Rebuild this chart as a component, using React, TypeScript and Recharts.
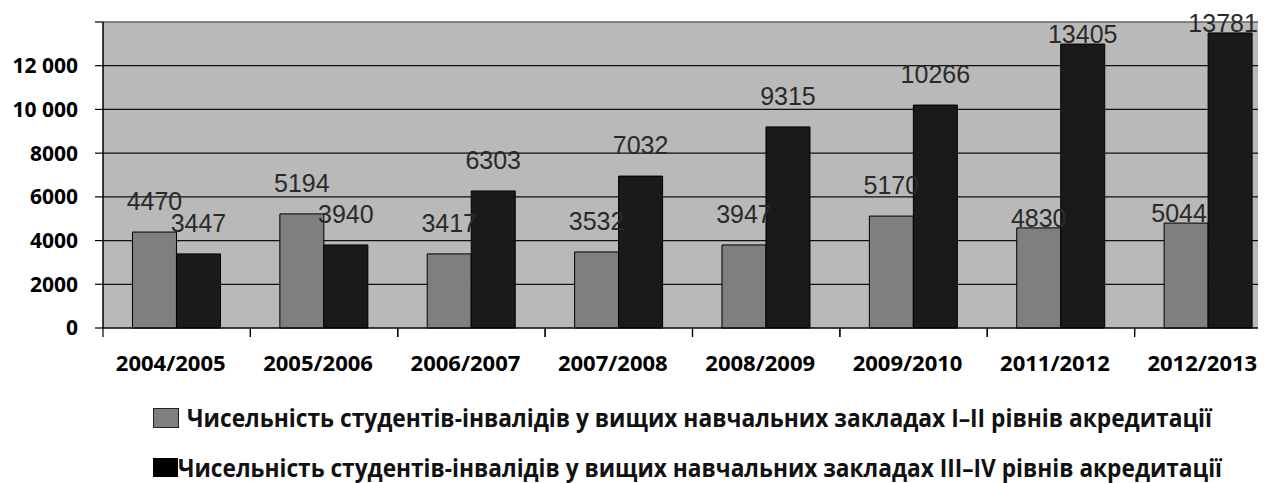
import { Bar, BarChart, CartesianGrid, LabelList, ReferenceLine, XAxis, YAxis } from 'recharts'

const years = ['2004/2005', '2005/2006', '2006/2007', '2007/2008', '2008/2009', '2009/2010', '2011/2012', '2012/2013']
// bar heights as drawn in the picture
const lowerLevel = [4390, 5220, 3390, 3480, 3800, 5120, 4580, 4800]
const upperLevel = [3390, 3800, 6270, 6950, 9200, 10200, 12990, 13500]
// numbers printed above the bars
const lowerLabels = ['4470', '5194', '3417', '3532', '3947', '5170', '4830', '5044']
const upperLabels = ['3447', '3940', '6303', '7032', '9315', '10266', '13405', '13781']
const yTicks = [0, 2000, 4000, 6000, 8000, 10000, 12000, 14000]
const seriesNames = [
  'Чисельність студентів-інвалідів у вищих навчальних закладах I–II рівнів акредитації',
  'Чисельність студентів-інвалідів у вищих навчальних закладах III–IV рівнів акредитації',
]

const data = years.map((year, i) => ({ year, lower: lowerLevel[i], upper: upperLevel[i] }))

const CHART_W = 1300
const CHART_H = 370
const PLOT_LEFT = 95
const PLOT_RIGHT = 1274
const PLOT_BOTTOM = 320
const BAND = (PLOT_RIGHT - PLOT_LEFT) / years.length
const AXIS_FONT = '"Open Sans", "Noto Sans", sans-serif'

function yLabel(v: number) {
  if (v >= 14000) return ''
  if (v >= 10000) return `${Math.floor(v / 1000)} ${String(v % 1000).padStart(3, '0')}`
  return String(v)
}

function XTick(props: any) {
  const { x, y, payload } = props
  return (
    <g>
      <line x1={x - BAND / 2} x2={x - BAND / 2} y1={PLOT_BOTTOM} y2={PLOT_BOTTOM + 9} stroke="#000" strokeWidth={1.2} />
      <line x1={x + BAND / 2} x2={x + BAND / 2} y1={PLOT_BOTTOM} y2={PLOT_BOTTOM + 9} stroke="#000" strokeWidth={1.2} />
      <text x={x - 6} y={y + 43} textAnchor="middle" fontFamily={AXIS_FONT} fontWeight={700} fontSize={22} fill="#000">
        {payload.value}
      </text>
    </g>
  )
}

function makeLabel(labels: string[]) {
  return (props: any) => {
    const { x, y, width, index } = props
    const lift = index >= 6 ? 1 : 22
    const shift = index === labels.length - 1 ? -7 : 0
    return (
      <text
        x={x + width / 2 + shift}
        y={y - lift}
        textAnchor="middle"
        fontFamily='"Liberation Sans", Arial, sans-serif'
        fontSize={25}
        fill="#2a2a2a"
      >
        {labels[index]}
      </text>
    )
  }
}

function LegendRow({ x, y, width, text }: { x: number; y: number; width: number; text: string }) {
  return (
    <text
      transform={`translate(${x},${y}) scale(1,1.17)`}
      fontFamily={AXIS_FONT}
      fontWeight={700}
      fontSize={21}
      textLength={width}
      lengthAdjust="spacingAndGlyphs"
      fill="#111"
    >
      {text}
    </text>
  )
}

function LegendBlock() {
  return (
    <svg
      width={1258}
      height={105}
      overflow="visible"
      style={{ position: 'absolute', left: 0, top: CHART_H, display: 'block', overflow: 'visible' }}
    >
      <rect x={145.5} y={30.5} width={25} height={19} fill="#7f7f7f" stroke="#222" />
      <LegendRow x={179} y={49} width={1025} text={seriesNames[0]} />
      <rect x={145} y={80} width={25} height={19} fill="#000" />
      <LegendRow x={170} y={99} width={1044} text={seriesNames[1]} />
    </svg>
  )
}

export default function App() {
  return (
    <div style={{ position: 'relative', width: 1258, height: 475, background: '#fff' }}>
      <div style={{ width: 1258, height: CHART_H, overflow: 'hidden' }}>
        <BarChart
          width={CHART_W}
          height={CHART_H}
          data={data}
          margin={{ top: 14, right: CHART_W - PLOT_RIGHT, bottom: 10, left: 0 }}
          barCategoryGap="20%"
          barGap={0}
        >
          <CartesianGrid fill="#b9b9b9" stroke="#111" strokeWidth={1.2} vertical={false} />
          <ReferenceLine y={14000} stroke="#8c8c8c" strokeWidth={1.2} />
          <XAxis
            dataKey="year"
            axisLine={{ stroke: '#000', strokeWidth: 1.2 }}
            tickLine={false}
            tickSize={0}
            tickMargin={0}
            height={40}
            interval={0}
            tick={<XTick />}
          />
          <YAxis
            width={PLOT_LEFT}
            domain={[0, 14000]}
            ticks={yTicks}
            interval={0}
            tickFormatter={yLabel}
            axisLine={{ stroke: '#000', strokeWidth: 1.5 }}
            tickLine={{ stroke: '#000', strokeWidth: 1.2 }}
            tickSize={8}
            tickMargin={17}
            tick={{ fontFamily: AXIS_FONT, fontWeight: 700, fontSize: 21, fill: '#000' }}
          />
          <Bar dataKey="lower" fill="#7f7f7f" stroke="#000" strokeWidth={1} isAnimationActive={false}>
            <LabelList dataKey="lower" content={makeLabel(lowerLabels)} />
          </Bar>
          <Bar dataKey="upper" fill="#1a1a1a" stroke="#000" strokeWidth={1} isAnimationActive={false}>
            <LabelList dataKey="upper" content={makeLabel(upperLabels)} />
          </Bar>
        </BarChart>
      </div>
      <LegendBlock />
    </div>
  )
}
